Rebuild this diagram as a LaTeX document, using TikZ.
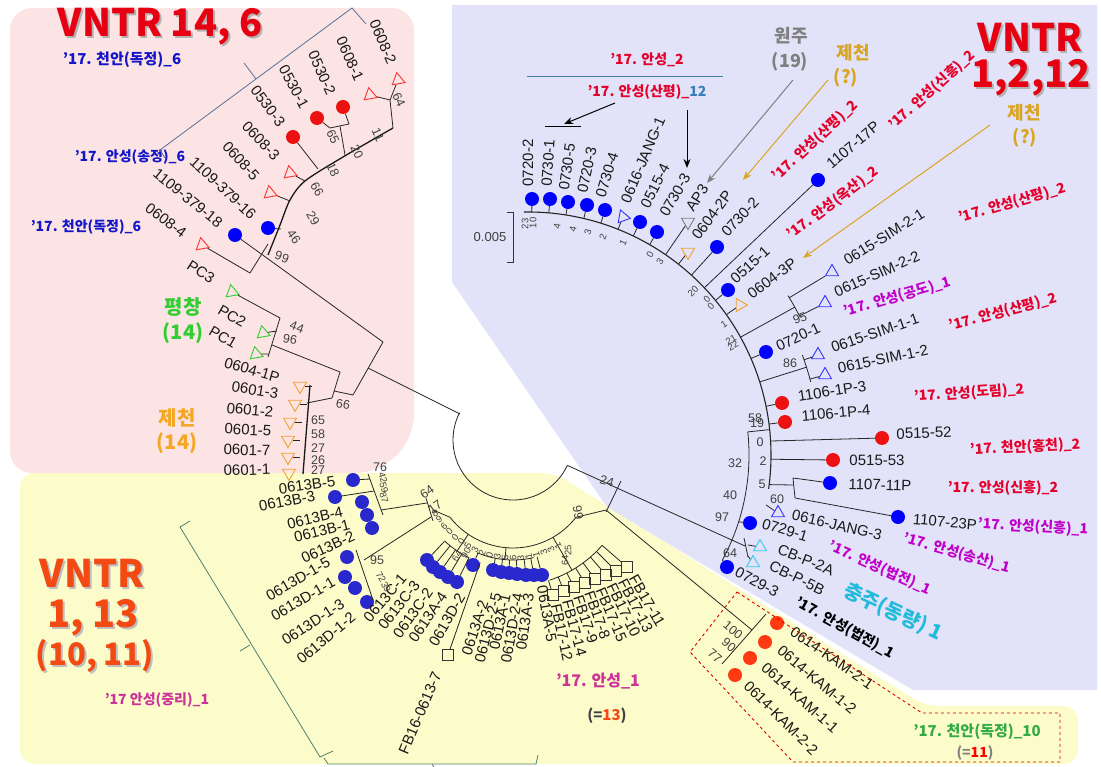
\documentclass[tikz,border=0pt]{standalone}
\usepackage{fontspec}
\setmainfont{Liberation Sans}
\newfontfamily\kr{Noto Sans CJK KR}
\usetikzlibrary{shapes.geometric,arrows.meta,calc}
\definecolor{pinkbg}{HTML}{FCE4E4}
\definecolor{lavbg}{HTML}{E2E2F8}
\definecolor{yelbg}{HTML}{FCFCCB}
\definecolor{kred}{HTML}{E4002B}
\definecolor{kblue}{HTML}{1414C8}
\definecolor{kmag}{HTML}{C000C8}
\definecolor{kpink}{HTML}{CC3399}
\definecolor{kgreen}{HTML}{33CC33}
\definecolor{kgreen2}{HTML}{33AA44}
\definecolor{korange}{HTML}{F5A623}
\definecolor{kgold}{HTML}{DAA520}
\definecolor{kgray}{HTML}{808080}
\definecolor{kcyan}{HTML}{22BBDD}
\definecolor{ttlred}{HTML}{E60012}
\definecolor{ttlorange}{HTML}{F24A12}
\definecolor{dotblue}{HTML}{0000FF}
\definecolor{dotblue2}{HTML}{2828CC}
\definecolor{dotred}{HTML}{EE1111}
\definecolor{dotkam}{HTML}{FF3A10}
\definecolor{brk}{HTML}{5A6E9A}
\definecolor{brk2}{HTML}{4F7F70}
\definecolor{steel}{HTML}{3A7FB5}
\definecolor{tred}{HTML}{FF3030}
\definecolor{tgreen}{HTML}{33CC33}
\definecolor{torange}{HTML}{F5A030}
\definecolor{tblue}{HTML}{3333FF}
\definecolor{tcyan}{HTML}{33CCEE}
\tikzset{
  br/.style={line width=0.8pt, draw=black!85},
  thk/.style={line width=1.3pt, draw=black!90},
  lf/.style={font=\fontsize{15}{15}\selectfont, inner sep=0pt, text=black!90},
  bs/.style={font=\fontsize{12.5}{13}\selectfont, inner sep=0pt, text=black!75},
  tn/.style={font=\fontsize{9.5}{10}\selectfont, inner sep=0pt, text=black!75},
  ann/.style={font=\kr\bfseries\fontsize{14}{15}\selectfont, inner sep=0pt},
  bigk/.style={font=\kr\bfseries\fontsize{20}{22}\selectfont, inner sep=0pt},
  ttl/.style={font=\kr\bfseries\fontsize{38}{40}\selectfont, inner sep=0pt},
  mdot/.style={circle, fill=#1, minimum size=14pt, inner sep=0pt},
  mtri/.style={regular polygon, regular polygon sides=3, draw=#1, line width=0.9pt, minimum size=15pt, inner sep=0pt},
  msq/.style={rectangle, draw=black!80, minimum size=11pt, inner sep=0pt, line width=0.6pt},
  arr/.style={-{Stealth[length=9pt,width=7pt]}, line width=1pt},
}
\newcommand\Lab[5]{\node[lf,rotate=#4] (#1) at (#2,#3) {#5};}
\newcommand\Mdot[4]{\node[mdot=#4] (#1) at (#2,#3) {};}
\newcommand\Mtri[5]{\node[mtri=#4, rotate=#5] (#1) at (#2,#3) {};}
\newcommand\Bs[5]{\node[bs,rotate=#5] (#1) at (#3,#4) {#2};}
\newcommand\Tn[5]{\node[tn,rotate=#5] (#1) at (#3,#4) {#2};}
\begin{document}
\begin{tikzpicture}[x=1pt,y=-1pt]
\useasboundingbox (0,0) rectangle (1101,767);
\fill[white] (0,0) rectangle (1101,767);
% ---------- backgrounds
\fill[yelbg, rounded corners=14pt] (20,473) -- (555,473) -- (925,706) -- (1078,706) -- (1078,764) -- (20,764) -- cycle;
\fill[lavbg] (452,5) -- (1097,5) -- (1097,690) -- (913,690) -- (607,507) -- (452,282) -- cycle;
\fill[pinkbg] (10,240) [rounded corners=22pt] -- (10,8) -- (414,8) [rounded corners=60pt] -- (414,473) [rounded corners=22pt] -- (10,473) -- cycle;
\coordinate (lc) at (528,455);
\coordinate (yc) at (513,468);
\coordinate (rc) at (513,440);

% ---------- titles
\node[ttl, text=black!30] (t1s) at (162,29) {VNTR 14, 6};
\node[ttl, text=ttlred] (t1) at (160,27) {VNTR 14, 6};
\node[ttl, text=black!30] (t2s) at (1032,39) {VNTR};
\node[ttl, text=ttlred] (t2) at (1030,37) {VNTR};
\node[ttl, text=black!30] (t3s) at (1033,80) {1,2,12};
\node[ttl, text=ttlred] (t3) at (1031,78) {1,2,12};
\node[ttl, text=black!25] (t4s) at (94,575) {VNTR};
\node[ttl, text=ttlorange] (t4) at (92,573) {VNTR};
\node[ttl, text=black!25] (t5s) at (95,620) {1, 13};
\node[ttl, text=ttlorange] (t5) at (93,618) {1, 13};
\node[ttl, text=black!25, font=\kr\bfseries\fontsize{31}{33}\selectfont] (t6s) at (97,658) {(10, 11)};
\node[ttl, text=ttlorange, font=\kr\bfseries\fontsize{31}{33}\selectfont] (t6) at (95,656) {(10, 11)};

% ---------- pink annotations
\node[ann, text=kblue, font=\kr\bfseries\fontsize{15}{16}\selectfont] (a1) at (122,60) {’17. 천안(독정)\_6};
\node[ann, text=kblue] (a2) at (130,157) {’17. 안성(송정)\_6};
\node[ann, text=kblue] (a3) at (86,227) {’17. 천안(독정)\_6};
\draw[brk, line width=0.8pt] (165,158) -- (160,150) -- (352,8) -- (366,24);
\draw[brk, line width=0.8pt] (256,79) -- (244,63);
\node[bigk, text=kgreen] (a4) at (183,307) {평창};
\node[bigk, text=kgreen] (a5) at (183,333) {(14)};
\node[bigk, text=korange] (a6) at (177,418) {제천};
\node[bigk, text=korange] (a7) at (177,443) {(14)};

% ---------- pink markers
\Mtri{p1}{398}{80}{tred}{-110}
\Mtri{p2}{370}{95}{tred}{-110}
\Mdot{p3}{343}{107}{dotred}
\Mdot{p4}{317}{118}{dotred}
\Mdot{p5}{293}{137}{dotred}
\Mtri{p6}{290}{173}{tred}{-110}
\Mtri{p7}{270}{193}{tred}{-110}
\Mdot{p8}{268}{228}{dotblue}
\Mdot{p9}{235}{235}{dotblue}
\Mtri{p10}{202}{245}{tred}{-110}
\Mtri{p11}{232}{292}{tgreen}{-110}
\Mtri{p12}{263}{333}{tgreen}{-110}
\Mtri{p13}{256}{354}{tgreen}{-110}
\Mtri{p14}{300}{386}{torange}{180}
\Mtri{p15}{295}{404}{torange}{180}
\Mtri{p16}{290}{422}{torange}{180}
\Mtri{p17}{288}{440}{torange}{180}
\Mtri{p18}{288}{457}{torange}{180}
\Mtri{p19}{289}{473}{torange}{180}
% pink labels
\Lab{lp1}{383}{42}{-67}{0608-2}
\Lab{lp2}{350}{59}{-66}{0608-1}
\Lab{lp3}{322}{73}{-66}{0530-2}
\Lab{lp4}{294}{87}{-62}{0530-1}
\Lab{lp5}{268}{106}{-53}{0530-3}
\Lab{lp6}{261}{141}{-46}{0608-3}
\Lab{lp7}{241}{161}{-48}{0608-5}
\Lab{lp8}{223}{188}{-43}{1109-379-16}
\Lab{lp9}{188}{198}{-39}{1109-379-18}
\Lab{lp10}{166}{220}{-37}{0608-4}
\Lab{lp11}{201}{272}{-33}{PC3}
\Lab{lp12}{232}{316}{-30}{PC2}
\Lab{lp13}{223}{337}{-30}{PC1}
\Lab{lp14}{252}{370}{-16}{0604-1P}
\Lab{lp15}{255}{390}{-9}{0601-3}
\Lab{lp16}{250}{410}{-5}{0601-2}
\Lab{lp17}{248}{430}{-3}{0601-5}
\Lab{lp18}{247}{450}{-1}{0601-7}
\Lab{lp19}{247}{470}{2}{0601-1}
% pink branches
\draw[br] (p1) -- (390,100);
\draw[br] (p2) -- (390,100);
\draw[br] (390,100) -- (393,128);
\draw[br] (p3) -- (349,124);
\draw[br] (p4) -- (330,128);
\draw[br] (330,128) -- (349,124);
\draw[br] (340,126) -- (345,155);
\draw[thk] plot[smooth] coordinates {(393,128) (343,157) (305,181) (290,200) (280,225) (268,255)};
\draw[br] (p5) -- (318,169);
\draw[br] (p6) -- (305,181);
\draw[br] (p7) -- (290,201);
\draw[br] (p8) -- (281,229);
\draw[br] (p9) -- (383,342);
\draw[br] (p10) -- (250,273);
\draw[br] (250,273) -- (268,244);
\draw[br] (p11) -- (280,318);
\draw[br] (280,318) -- (268,357);
\draw[br] (p12) -- (277,331);
\draw[br] (p13) -- (269,354);
\draw[br] (272,345) -- (340,372);
\draw[br] (340,372) -- (332,398);
\draw[br] (383,342) -- (353,395);
\draw[br] (353,395) -- (334,391);
\draw[br] (332,398) -- (307,403);
\draw[thk] (310,385) -- (303,474);
\foreach \m in {p14,p15,p16,p17,p18} \draw[br] (\m) -- ++(12,0);
\draw[br] (368,368) -- (460,414);
\Bs{bp1}{64}{399}{100}{-65}
\Bs{bp2}{11}{378}{135}{-65}
\Bs{bp3}{65}{333}{137}{-65}
\Bs{bp4}{20}{357}{152}{-65}
\Bs{bp5}{18}{333}{170}{-65}
\Bs{bp6}{66}{317}{189}{-60}
\Bs{bp7}{29}{313}{218}{-60}
\Bs{bp8}{46}{294}{237}{-55}
\Bs{bp9}{99}{282}{257}{-20}
\Bs{bp10}{44}{297}{327}{-20}
\Bs{bp11}{96}{290}{339}{-10}
\Bs{bp12}{66}{343}{404}{-10}
\Bs{bp13}{65}{318}{420}{0}
\Bs{bp14}{58}{318}{434}{0}
\Bs{bp15}{27}{318}{448}{0}
\Bs{bp16}{26}{318}{460}{0}
\Bs{bp17}{27}{318}{470}{0}

% ---------- root arc
\draw[br] ($(rc)+(-153:60)$) arc[start angle=-153, end angle=-335, radius=60];
\draw[br] ($(rc)+(25:60)$) -- (617,488);
\draw[br] (621,481) -- (606,512);
\Bs{b24}{24}{607}{481}{-15}

% ---------- lavender annotations
\node[ann, text=kred] (c1) at (647,60) {’17. 안성\_2};
\draw[steel!80!gray, line width=0.8pt] (527,76) -- (723,76);
\node[ann] (c2) at (647,92) {\color{kred}’17. 안성(산평)\_\color{steel}12};
\coordinate (c2a) at (615,103);
\coordinate (c2b) at (564,124);
\draw[arr] (c2a) -- (c2b);
\draw[line width=1pt] (545,127) -- (581,127);
\coordinate (c2c) at (687,110);
\coordinate (c2d) at (687,168);
\draw[arr] (c2c) -- (c2d);
\node[bigk, text=kgray, font=\kr\bfseries\fontsize{18}{20}\selectfont] (c3) at (791,36) {원주};
\node[bigk, text=kgray, font=\kr\bfseries\fontsize{18}{20}\selectfont] (c4) at (790,62) {(19)};
\node[bigk, text=kgold, font=\kr\bfseries\fontsize{18}{20}\selectfont] (c5) at (853,53) {제천};
\node[bigk, text=kgold, font=\kr\bfseries\fontsize{18}{20}\selectfont] (c6) at (846,78) {(?)};
\node[bigk, text=kgold, font=\kr\bfseries\fontsize{18}{20}\selectfont] (c7) at (1024,113) {제천};
\node[bigk, text=kgold, font=\kr\bfseries\fontsize{18}{20}\selectfont] (c8) at (1025,138) {(?)};
\coordinate (g1a) at (793,80);
\coordinate (g1b) at (707,183);
\draw[arr, kgray] (g1a) -- (g1b);
\coordinate (g2a) at (828,80);
\coordinate (g2b) at (743,180);
\draw[arr, kgold] (g2a) -- (g2b);
\coordinate (g3a) at (990,125);
\coordinate (g3b) at (803,258);
\draw[arr, kgold] (g3a) -- (g3b);
\node[ann, text=kred, rotate=43] (r1) at (815,141) {’17. 안성(산평)\_2};
\node[ann, text=kred, rotate=42] (r2) at (932,90) {’17. 안성(신흥)\_2};
\node[ann, text=kred, rotate=37] (r3) at (833,203) {’17. 안성(옥산)\_2};
\node[ann, text=kred, rotate=16] (r4) at (1012,203) {’17. 안성(산평)\_2};
\node[ann, text=kmag, rotate=16] (r5) at (897,297) {’17. 안성(공도)\_1};
\node[ann, text=kred, rotate=15] (r6) at (1003,312) {’17. 안성(산평)\_2};
\node[ann, text=kred, rotate=4] (r7) at (969,393) {’17. 안성(도림)\_2};
\node[ann, text=kred, rotate=3] (r8) at (1025,447) {’17. 천안(홍천)\_2};
\node[ann, text=kred] (r9) at (1003,488) {’17. 안성(신흥)\_2};
\node[ann, text=kmag, rotate=-3] (r10) at (1033,527) {’17. 안성(신흥)\_1};
\node[ann, text=kmag, rotate=-16] (r11) at (957,553) {’17. 안성(송산)\_1};
\node[ann, text=kmag, rotate=-24] (r12) at (880,568) {’17. 안성(법전)\_1};
\node[bigk, text=kcyan, rotate=-25] (r13) at (893,612) {충주(동량) 1};
\node[ann, text=black, rotate=-29] (r14) at (845,628) {’17. 안성(법전)\_1};

% ---------- lavender markers
\Mdot{t1}{532}{199}{dotblue}
\Mdot{t2}{550}{199}{dotblue}
\Mdot{t3}{568}{202}{dotblue}
\Mdot{t4}{587}{205}{dotblue}
\Mdot{t5}{605}{210}{dotblue}
\Mtri{t6}{623}{217}{tblue}{20}
\Mdot{t7}{640}{222}{dotblue}
\Mdot{t8}{657}{232}{dotblue}
\Mtri{t9}{688}{222}{kgray}{180}
\Mtri{t10}{688}{252}{torange}{180}
\Mdot{t11}{717}{247}{dotblue}
\Mdot{t12}{818}{180}{dotblue}
\Mdot{t13}{728}{290}{dotblue}
\Mtri{t14}{740}{305}{torange}{150}
\Mtri{t15}{832}{272}{tblue}{0}
\Mtri{t16}{825}{303}{tblue}{0}
\Mdot{t17}{766}{352}{dotblue}
\Mtri{t18}{818}{355}{tblue}{0}
\Mtri{t19}{825}{375}{tblue}{0}
\Mdot{t20}{782}{403}{dotred}
\Mdot{t21}{785}{422}{dotred}
\Mdot{t22}{882}{438}{dotred}
\Mdot{t23}{833}{460}{dotred}
\Mdot{t24}{830}{483}{dotblue}
\Mdot{t25}{898}{517}{dotblue}
\Mtri{t26}{778}{513}{tblue}{0}
\Mdot{t27}{750}{523}{dotblue}
\Mtri{t28}{760}{547}{tcyan}{0}
\Mtri{t29}{753}{563}{tcyan}{0}
\Mdot{t30}{727}{567}{dotblue}
% lavender labels
\Lab{lt1}{528}{163}{90}{0720-2}
\Lab{lt2}{548}{163}{86}{0730-1}
\Lab{lt3}{567}{167}{82}{0730-5}
\Lab{lt4}{587}{170}{78}{0720-3}
\Lab{lt5}{607}{175}{73}{0730-4}
\Lab{lt6}{643}{160}{67}{0616-JANG-1}
\Lab{lt7}{655}{186}{63}{0515-4}
\Lab{lt8}{675}{195}{60}{0730-3}
\Lab{lt9}{697}{198}{57}{AP3}
\Lab{lt10}{712}{215}{53}{0604-2P}
\Lab{lt11}{740}{217}{47}{0730-2}
\Lab{lt12}{853}{145}{40}{1107-17P}
\Lab{lt13}{750}{265}{42}{0515-1}
\Lab{lt14}{772}{278}{37}{0604-3P}
\Lab{lt15}{884}{237}{32}{0615-SIM-2-1}
\Lab{lt16}{877}{274}{24}{0615-SIM-2-2}
\Lab{lt17}{798}{337}{25}{0720-1}
\Lab{lt18}{875}{333}{19}{0615-SIM-1-1}
\Lab{lt19}{883}{359}{12}{0615-SIM-1-2}
\Lab{lt20}{832}{391}{9}{1106-1P-3}
\Lab{lt21}{836}{413}{5}{1106-1P-4}
\Lab{lt22}{924}{433}{2}{0515-52}
\Lab{lt23}{877}{460}{0}{0515-53}
\Lab{lt24}{880}{485}{-2}{1107-11P}
\Lab{lt25}{945}{522}{-5}{1107-23P}
\Lab{lt26}{837}{525}{-13}{0616-JANG-3}
\Lab{lt27}{785}{530}{-17}{0729-1}
\Lab{lt28}{806}{560}{-22}{CB-P-2A}
\Lab{lt29}{797}{578}{-26}{CB-P-5B}
\Lab{lt30}{757}{582}{-28}{0729-3}
% lavender branches
\draw[br, line width=1.1pt] ($(lc)+(-91:243)$) arc[start angle=-91, end angle=8, radius=243];
\foreach \m in {t1,t2,t3,t4,t5,t6,t7,t8,t9,t10,t11,t12,t13,t14,t17,t20,t21}
  \draw[br] (\m) -- ($(lc)!243pt!(\m)$);
\draw[br] ($(lc)+(-29:243)$) -- ($(lc)+(-29:305)$);
\draw[br] ($(lc)+(-27:305)$) arc[start angle=-27, end angle=-31.5, radius=305];
\foreach \m in {t15,t16} \draw[br] (\m) -- ($(lc)!305pt!(\m)$);
\draw[br] ($(lc)+(-17.5:243)$) -- ($(lc)+(-17.5:292)$);
\draw[br] ($(lc)+(-14.5:292)$) arc[start angle=-14.5, end angle=-20, radius=292];
\foreach \m in {t18,t19} \draw[br] (\m) -- ($(lc)!292pt!(\m)$);
\draw[br] ($(lc)+(-3.3:243)$) -- (t22);
\draw[br] ($(lc)+(1:243)$) -- (t23);
\draw[br] ($(lc)+(7:243)$) -- (793,485);
\draw[br] (793,478) -- (795,498);
\draw[br] (793,478) -- (t24);
\draw[br] (795,498) -- (t25);
\draw[br] (766,505) -- (t26);
\draw[br] ($(lc)+(-6:221)$) -- ($(lc)+(-6:243)$);
\draw[br] ($(lc)+(-6:221)$) arc[start angle=-6, end angle=28.4, radius=221];
\draw[br] ($(lc)+(17.6:221)$) -- (t27);
\draw[br] (617,488) -- (745,546);
\draw[br] (744,538) -- (748,557);
\draw[br] (748,545) -- (t28);
\draw[br] (748,556) -- (t29);
\draw[br] ($(lc)+(28.4:221)$) -- (t30);
% lavender numbers
\Tn{n1}{23}{525}{224}{90}
\Tn{n2}{10}{533}{223}{90}
\Tn{n3}{4}{557}{226}{80}
\Tn{n4}{4}{573}{229}{78}
\Tn{n5}{3}{588}{232}{75}
\Tn{n6}{2}{603}{237}{70}
\Tn{n7}{1}{623}{243}{65}
\Tn{n8}{0}{650}{255}{60}
\Tn{n9}{3}{660}{262}{58}
\Tn{n10}{20}{693}{291}{45}
\Tn{n11}{0}{707}{299}{45}
\Tn{n12}{0}{711}{306}{45}
\Tn{n13}{1}{724}{324}{35}
\Tn{n14}{21}{731}{340}{30}
\Tn{n15}{22}{733}{346}{30}
\Bs{n16}{95}{800}{318}{20}
\Bs{n17}{86}{790}{363}{0}
\Bs{n18}{58}{755}{418}{0}
\Bs{n19}{19}{757}{423}{0}
\Bs{n20}{0}{760}{442}{0}
\Bs{n21}{2}{763}{461}{0}
\Bs{n22}{5}{762}{484}{0}
\Bs{n23}{60}{777}{499}{0}
\Bs{n24}{32}{735}{463}{0}
\Bs{n25}{40}{730}{495}{0}
\Bs{n26}{97}{722}{517}{0}
\Bs{n27}{64}{730}{553}{0}
\node[bs, font=\fontsize{13}{13}\selectfont] (sc) at (490,237) {0.005};
\draw[black!80, line width=0.8pt] (507,212) -- (513,212) -- (513,262) -- (507,262);

% ---------- yellow annotations
\node[ann, text=kpink] (y1) at (157,700) {’17 안성(중리)\_1};
\node[ann, text=kpink, font=\kr\bfseries\fontsize{16}{17}\selectfont] (y2) at (598,681) {’17. 안성\_1};
\node[ann, font=\kr\bfseries\fontsize{15}{16}\selectfont] (y3) at (607,716) {\color{black!75}(=\color{ttlorange}13\color{black!75})};
\draw[brk2, line width=0.8pt] (190,521) -- (180,527) -- (320,757) -- (333,751);
\draw[brk2, line width=0.8pt] (250,645) -- (240,651);
\draw[brk2, line width=0.8pt] (324,758) -- (328,764) -- (536,764) -- (538,755);
\draw[brk2, line width=0.8pt] (432,764) -- (434,767);

% ---------- yellow markers
\Mdot{y4}{353}{480}{dotblue2}
\Mdot{y5}{335}{497}{dotblue2}
\Mdot{y6}{362}{502}{dotblue2}
\Mdot{y7}{367}{515}{dotblue2}
\Mdot{y8}{372}{528}{dotblue2}
\Mdot{y9}{347}{557}{dotblue2}
\Mdot{y10}{345}{577}{dotblue2}
\Mdot{y11}{355}{588}{dotblue2}
\Mdot{y12}{367}{602}{dotblue2}
\Mdot{y13}{427}{560}{dotblue2}
\Mdot{y14}{433}{567}{dotblue2}
\Mdot{y15}{440}{572}{dotblue2}
\Mdot{y16}{448}{577}{dotblue2}
\Mdot{y17}{457}{582}{dotblue2}
\Mdot{y18}{473}{565}{dotblue2}
\Mdot{y19}{493}{570}{dotblue2}
\Mdot{y20}{501}{572}{dotblue2}
\Mdot{y21}{509}{573}{dotblue2}
\Mdot{y22}{517}{574}{dotblue2}
\Mdot{y23}{526}{575}{dotblue2}
\Mdot{y24}{534}{575}{dotblue2}
\Mdot{y25}{542}{575}{dotblue2}
\node[msq] (q0) at (448,655) {};
\node[msq] (q1) at (627,567) {};
\node[msq] (q2) at (616,571) {};
\node[msq] (q3) at (606,575) {};
\node[msq] (q4) at (595,579) {};
\node[msq] (q5) at (585,583) {};
\node[msq] (q6) at (574,587) {};
\node[msq] (q7) at (564,591) {};
\node[msq] (q8) at (553,595) {};
% yellow labels
\Lab{ly4}{307}{485}{8}{0613B-5}
\Lab{ly5}{287}{501}{11}{0613B-3}
\Lab{ly6}{315}{518}{13}{0613B-4}
\Lab{ly7}{322}{531}{14}{0613B-1}
\Lab{ly8}{328}{547}{25}{0613B-2}
\Lab{ly9}{298}{579}{30}{0613D-1-5}
\Lab{ly10}{303}{599}{30}{0613D-1-1}
\Lab{ly11}{313}{622}{33}{0613D-1-3}
\Lab{ly12}{326}{638}{40}{0613D-1-2}
\Lab{ly13}{385}{598}{50}{0613C-1}
\Lab{ly14}{399}{605}{52}{0613C-3}
\Lab{ly15}{413}{613}{55}{0613C-2}
\Lab{ly16}{428}{617}{56}{0613A-4}
\Lab{ly17}{447}{620}{60}{0613D-2}
\Lab{ly18}{420}{713}{67}{FB16-0613-7}
\Lab{ly19}{475}{628}{72}{0613A-2}
\Lab{ly20}{488}{628}{76}{0613D-2-5}
\Lab{ly21}{500}{622}{78}{0613A-1}
\Lab{ly22}{512}{628}{80}{0613D-2-4}
\Lab{ly23}{525}{622}{82}{0613A-3}
\Lab{ly24}{547}{614}{-80}{0613A-5}
\node[lf, anchor=west, rotate=-60] (lq1) at (633,576) {FB17-11};
\node[lf, anchor=west, rotate=-62] (lq2) at (622,580) {FB17-13};
\node[lf, anchor=west, rotate=-64] (lq3) at (611,584) {FB17-10};
\node[lf, anchor=west, rotate=-67] (lq4) at (600,588) {FB17-15};
\node[lf, anchor=west, rotate=-70] (lq5) at (589,592) {FB17-8};
\node[lf, anchor=west, rotate=-72] (lq6) at (578,596) {FB17-9};
\node[lf, anchor=west, rotate=-75] (lq7) at (567,600) {FB17-14};
\node[lf, anchor=west, rotate=-78] (lq8) at (556,604) {FB17-12};
% yellow branches
\draw[br] ($(yc)+(-218:80)$) arc[start angle=-218, end angle=-322, radius=80];
\draw[br] ($(yc)+(38:80)$) -- (606,510);
\draw[br] (368,474) -- (383,515);
\draw[br] (y4) -- (370,479);
\draw[br] (y5) -- (374,491);
\draw[br] (381,510) -- (427,503);
\draw[br] (426,498) -- (433,521);
\draw[br] (433,510) -- ($(yc)+(-218:80)$);
\draw[br] (356,550) -- (373,600);
\draw[br] (364,560) -- (431,517);
\foreach \m in {y13,y14,y15,y16,y17} \draw[br] (\m) -- ($(yc)!100pt!(\m)$);
\draw[br] ($(yc)+(-227:100)$) arc[start angle=-227, end angle=-244, radius=100];
\draw[br] ($(yc)+(-236:80)$) -- ($(yc)+(-236:100)$);
\foreach \m in {y18,y19,y20,y21,y22,y23,y24,y25} \draw[br] (\m) -- ($(yc)!92pt!(\m)$);
\draw[br] ($(yc)+(-247:92)$) arc[start angle=-247, end angle=-283, radius=92];
\draw[br] ($(yc)+(-265:80)$) -- ($(yc)+(-265:92)$);
\draw[br] (q0) -- ($(yc)!100pt!(q0)$);
\foreach \m in {q1,q2,q3,q4,q5,q6,q7,q8} \draw[br] (\m) -- ($(yc)!118pt!(\m)$);
\draw[br] ($(yc)+(-288:118)$) arc[start angle=-288, end angle=-319, radius=118];
\draw[br] ($(yc)+(-300:80)$) -- ($(yc)+(-300:118)$);
% yellow numbers
\Bs{m1}{76}{380}{467}{0}
\Tn{m2}{42}{383}{478}{-75}
\Tn{m3}{59}{384}{488}{-75}
\Tn{m4}{87}{384}{498}{-75}
\Bs{m5}{64}{427}{492}{35}
\Bs{m6}{17}{435}{507}{35}
\Bs{m7}{95}{377}{560}{0}
\Tn{m8}{72}{381}{577}{-60}
\Tn{m9}{39}{386}{587}{-60}
\Tn{m10}{64}{457}{556}{60}
\Tn{m11}{90}{466}{553}{60}
\Bs{m12}{99}{578}{513}{-80}
\Tn{m13}{64}{565}{560}{90}
\Tn{m14}{25}{568}{550}{90}
\foreach \a/\t [count=\i] in {210/8,215/9,220/6,225/0,230/0,235/0,240/5,245/3,250/2,255/0,260/3,265/5,270/6,275/3,280/1,285/1,290/3,295/3,300/1}
  \node[tn, rotate=\a-180] (sd\i) at ($(yc)+(-\a:90)$) {\t};

% ---------- KAM group
\Mdot{k1}{777}{623}{dotkam}
\Mdot{k2}{765}{642}{dotkam}
\Mdot{k3}{750}{658}{dotkam}
\Mdot{k4}{735}{675}{dotkam}
\Lab{lk1}{832}{658}{-35}{0614-KAM-2-1}
\Lab{lk2}{817}{680}{-40}{0614-KAM-1-2}
\Lab{lk3}{800}{698}{-42}{0614-KAM-1-1}
\Lab{lk4}{781}{718}{-45}{0614-KAM-2-2}
\draw[br] (606,510) -- (752,630);
\draw[br] (766,614) -- (722,664);
\Bs{bk1}{100}{733}{630}{-40}
\Bs{bk2}{90}{729}{645}{-40}
\Bs{bk3}{77}{715}{656}{-40}
\draw[red!85!black, dashed, line width=0.9pt] (737,592) -- (922,713) -- (1060,713) -- (1060,762) -- (793,762) -- (690,652) -- cycle;
\node[ann, text=kgreen2, font=\kr\bfseries\fontsize{15}{16}\selectfont] (kk1) at (977,732) {’17. 천안(독정)\_10};
\node[ann, font=\kr\bfseries\fontsize{14}{15}\selectfont] (kk2) at (975,753) {\color{kgray}(=\color{red}11\color{kgray})};
\end{tikzpicture}
\end{document}
